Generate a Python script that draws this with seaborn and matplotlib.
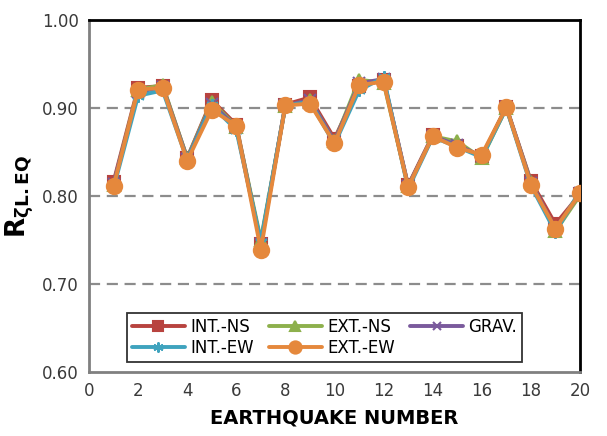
import numpy as np
import pandas as pd
import seaborn as sns
import matplotlib.pyplot as plt
from matplotlib.lines import Line2D

eq = list(range(1, 21))

int_ns = [0.816, 0.923, 0.925, 0.843, 0.909, 0.881, 0.745, 0.904, 0.912, 0.865,
          0.925, 0.932, 0.812, 0.869, 0.857, 0.845, 0.901, 0.817, 0.768, 0.802]
ext_ns = [0.813, 0.921, 0.926, 0.843, 0.907, 0.879, 0.750, 0.902, 0.909, 0.862,
          0.932, 0.929, 0.811, 0.868, 0.862, 0.843, 0.900, 0.816, 0.760, 0.801]
grav = [0.814, 0.918, 0.924, 0.842, 0.905, 0.878, 0.746, 0.903, 0.909, 0.862,
        0.928, 0.933, 0.811, 0.868, 0.858, 0.845, 0.901, 0.815, 0.763, 0.803]
int_ew = [0.809, 0.914, 0.920, 0.841, 0.903, 0.875, 0.748, 0.903, 0.907, 0.859,
          0.920, 0.935, 0.808, 0.867, 0.856, 0.844, 0.900, 0.812, 0.759, 0.806]
ext_ew = [0.811, 0.921, 0.923, 0.840, 0.898, 0.880, 0.739, 0.903, 0.905, 0.860,
          0.926, 0.930, 0.810, 0.868, 0.855, 0.847, 0.901, 0.813, 0.763, 0.803]

# drawing order: orange last (on top)
series = [
    ('INT.-NS', int_ns, '#B8433F', 's', 9),
    ('EXT.-NS', ext_ns, '#8DB04C', '^', 9),
    ('GRAV.', grav, '#7A5A9C', 'x', 8),
    ('INT.-EW', int_ew, '#3FA3BE', (6, 2, 0), 9),
    ('EXT.-EW', ext_ew, '#E5883C', 'o', 11),
]

sns.set_style('white')
plt.rcParams['font.family'] = ['DejaVu Sans']
plt.rcParams['text.color'] = 'black'
plt.rcParams['axes.labelcolor'] = 'black'

fig = plt.figure(figsize=(6.07, 4.36), dpi=100)
ax = fig.add_axes([0.1466, 0.1468, 0.8089, 0.8072])

handles = {}
for name, vals, col, mk, ms in series:
    df = pd.DataFrame({'eq': eq, 'r': vals})
    sns.lineplot(data=df, x='eq', y='r', ax=ax, color=col, linewidth=2.8,
                 marker=mk, markersize=ms, markeredgecolor=col,
                 markerfacecolor=col, markeredgewidth=1.5, zorder=3)
    handles[name] = Line2D([], [], color=col, linewidth=2.8, marker=mk,
                           markersize=ms * 0.8, markeredgecolor=col,
                           markerfacecolor=col, markeredgewidth=1.5)

ax.set_xlim(0, 20)
ax.set_ylim(0.60, 1.00)
ax.set_xticks(range(0, 21, 2))
ax.set_yticks([0.6, 0.7, 0.8, 0.9, 1.0])
ax.set_yticklabels(['0.60', '0.70', '0.80', '0.90', '1.00'])
ax.tick_params(axis='both', direction='inout', length=7, width=1.2,
               color='#808080', labelsize=12, labelcolor='#3a3a3a', pad=4)

for y in [0.7, 0.8, 0.9]:
    ax.axhline(y, color='#8c8c8c', linestyle=(0, (5, 3)), linewidth=1.6, zorder=1)

for side in ['top', 'right']:
    ax.spines[side].set_color('black')
    ax.spines[side].set_linewidth(2)
for side in ['left', 'bottom']:
    ax.spines[side].set_color('#808080')
    ax.spines[side].set_linewidth(2)

ax.set_xlabel('EARTHQUAKE NUMBER', fontsize=14, fontweight='bold', labelpad=6)
ax.set_ylabel(r'$\mathbf{R}_{\mathbf{\zeta L.EQ}}$', fontsize=19, labelpad=4)

order = ['INT.-NS', 'INT.-EW', 'EXT.-NS', 'EXT.-EW', 'GRAV.']
leg = ax.legend([handles[k] for k in order], order, ncol=3,
                loc='lower left', bbox_to_anchor=(0.077, 0.028),
                borderaxespad=0, fontsize=12, frameon=True, fancybox=False,
                handlelength=3.2, columnspacing=0.9, handletextpad=0.3,
                borderpad=0.3, labelspacing=0.2)
leg.get_frame().set_edgecolor('black')
leg.get_frame().set_linewidth(1.3)

fig.savefig('out.png', dpi=100)
